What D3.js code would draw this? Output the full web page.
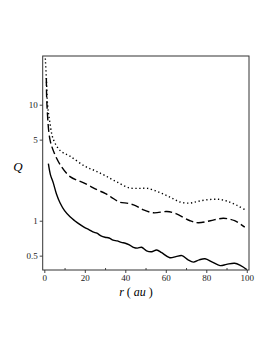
<!DOCTYPE html>
<meta charset="utf-8">
<body style="margin:0;background:#fff;">
<svg width="273" height="353"></svg>
</body>
<script src="https://cdn.jsdelivr.net/npm/d3@7"></script>
<script>
    // values
    let rDot = [0.5, 1, 1.6, 2.5, 4.5, 8, 12.7, 20, 25, 30, 36, 42, 47, 51, 57, 62, 67, 72, 76, 81, 86, 90, 95, 100];
    let qDot = [25, 17, 10, 7.5, 5, 4.0, 3.6, 2.95, 2.7, 2.45, 2.15, 1.92, 1.9, 1.9, 1.75, 1.6, 1.45, 1.42, 1.47, 1.52, 1.53, 1.48, 1.36, 1.22];
    let rDash = [1, 1.3, 2.8, 5, 7.8, 12.7, 20, 26, 30, 33, 37, 41.5, 45, 49, 54, 60.5, 65, 72, 76, 82, 88.5, 94, 99];
    let qDash = [17, 10, 5, 3.8, 3.05, 2.4, 2.1, 1.85, 1.72, 1.6, 1.45, 1.41, 1.35, 1.24, 1.17, 1.2, 1.15, 1.0, 0.96, 1.0, 1.05, 1.0, 0.88];
    let rSolid = [2, 3, 4.5, 6, 7.8, 10, 12.7, 15, 17.5, 20, 22, 24, 26, 28, 30, 32, 34, 36, 38, 40, 42, 44, 46, 48, 50.5, 53, 55.5, 58, 62, 65, 68, 71, 73.6, 76.5, 79.4, 83, 86.8, 90, 94, 97, 100];
    let qSolid = [3.1, 2.5, 2.1, 1.7, 1.42, 1.22, 1.08, 1.0, 0.93, 0.87, 0.84, 0.8, 0.78, 0.74, 0.72, 0.71, 0.68, 0.67, 0.65, 0.64, 0.62, 0.59, 0.58, 0.59, 0.55, 0.54, 0.56, 0.53, 0.48, 0.49, 0.5, 0.46, 0.44, 0.46, 0.47, 0.44, 0.41, 0.42, 0.43, 0.41, 0.38];
    let xTicks = [0, 20, 40, 60, 80, 100];
    let yTicks = [0.5, 1, 5, 10];

    let svg = d3.select("svg"),
        pLeft = 42.7, pRight = 249, pTop = 56, pBottom = 270;

    let x = d3.scaleLinear().domain([-0.8, 101.1]).range([pLeft, pRight]);
    let y = d3.scaleLog().domain([0.376, 26.3]).range([pBottom, pTop]);

    svg.append("clipPath").attr("id", "clip")
        .append("rect").attr("x", pLeft).attr("y", pTop)
        .attr("width", pRight - pLeft).attr("height", pBottom - pTop);

    let serif = "'Liberation Serif', 'Times New Roman', serif";

    // x axis
    let gx = svg.append("g").attr("transform", `translate(0,${pBottom})`)
        .call(d3.axisBottom(x).tickValues(xTicks).tickSize(3).tickPadding(2).tickFormat(d3.format("d")));
    gx.select(".domain").remove();
    gx.selectAll("text").style("font", `9px ${serif}`).attr("fill", "#222");
    svg.append("g").attr("transform", `translate(0,${pBottom})`)
        .call(d3.axisTop(x).tickValues([10, 30, 50, 70, 90]).tickSize(2).tickFormat(""))
        .select(".domain").remove();

    // y axis
    let gy = svg.append("g").attr("transform", `translate(${pLeft},0)`)
        .call(d3.axisLeft(y).tickValues(yTicks).tickSize(3).tickPadding(2).tickFormat(d => d));
    gy.select(".domain").remove();
    gy.selectAll("text").style("font", `9px ${serif}`).attr("fill", "#222");
    svg.selectAll(".tick line").attr("stroke", "#444");

    // frame
    svg.append("rect").attr("x", pLeft).attr("y", pTop)
        .attr("width", pRight - pLeft).attr("height", pBottom - pTop)
        .attr("fill", "none").attr("stroke", "#333").attr("stroke-width", 1);

    let line = d3.line().x(d => x(d[0])).y(d => y(d[1])).curve(d3.curveCatmullRom);

    let series = [
        { r: rDot, q: qDot, dash: "1.3,2.6" },
        { r: rDash, q: qDash, dash: "8,3.5" },
        { r: rSolid, q: qSolid, dash: null }
    ];
    series.forEach(s => {
        svg.append("path")
            .datum(d3.zip(s.r, s.q))
            .attr("clip-path", "url(#clip)")
            .attr("fill", "none")
            .attr("stroke", "#000")
            .attr("stroke-width", 1.4)
            .attr("stroke-dasharray", s.dash)
            .attr("d", line);
    });

    // labels
    svg.append("text").attr("x", 18).attr("y", 171)
        .attr("text-anchor", "middle")
        .style("font", `italic 13px ${serif}`).text("Q");
    svg.append("text").attr("x", 136).attr("y", 296)
        .attr("text-anchor", "middle")
        .style("font", `12px ${serif}`)
        .html("<tspan font-style='italic'>r</tspan> ( <tspan font-style='italic'>au</tspan> )");
</script>
